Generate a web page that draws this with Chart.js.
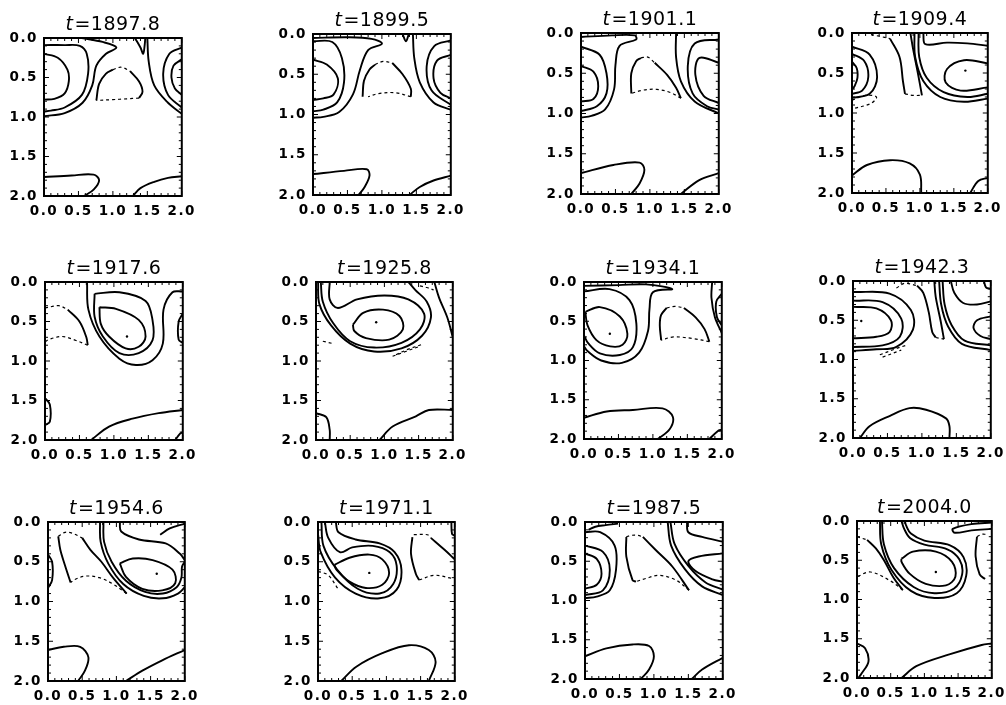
<!DOCTYPE html>
<html><head><meta charset="utf-8">
<script src="https://cdn.jsdelivr.net/npm/chart.js@4/dist/chart.umd.min.js"></script>
<style>
html,body{margin:0;padding:0;background:#fff;width:1006px;height:705px;overflow:hidden;position:relative}
.p{position:absolute}
</style></head><body>
<script>
// ---------- data ----------
const times = ['1897.8','1899.5','1901.1','1909.4','1917.6','1925.8','1934.1','1942.3','1954.6','1971.1','1987.5','2004.0'];
const tickValues = [0.0, 0.5, 1.0, 1.5, 2.0];

const solid_1897_8 = [
 [[0,0.2],[0.2,0.25],[0.34,0.4],[0.36,0.55],[0.3,0.7],[0.15,0.77],[0,0.78]],
 [[0,0.09],[0.3,0.09],[0.52,0.1],[0.62,0.2],[0.64,0.45],[0.55,0.72],[0.3,0.88],[0.1,0.92],[0,0.93]],
 [[0.55,0],[0.85,0.05],[1.05,0.12],[0.9,0.2],[0.76,0.35],[0.7,0.6],[0.56,0.82],[0.3,0.95],[0,0.99]],
 [[1.32,0],[1.4,0.12],[1.44,0.2],[1.46,0.1],[1.47,0]],
 [[1.5,0],[1.52,0.3],[1.6,0.6],[1.8,0.82],[2,0.96]],
 [[2,0.12],[1.82,0.2],[1.73,0.45],[1.8,0.72],[2,0.88]],
 [[2,0.27],[1.88,0.35],[1.85,0.5],[1.9,0.64],[2,0.72]],
 [[0.76,0.79],[0.8,0.58],[0.9,0.45],[1.0,0.4]],
 [[1.25,0.42],[1.38,0.55],[1.43,0.68],[1.38,0.76]],
 [[0,1.76],[0.4,1.74],[0.72,1.73],[0.8,1.8],[0.72,1.92],[0.58,2]],
 [[1.29,2],[1.4,1.9],[1.6,1.82],[1.8,1.77],[2,1.75]]
];
const dashed_1897_8 = [
 [[1.0,0.4],[1.12,0.37],[1.25,0.42]],
 [[1.38,0.76],[1.2,0.77],[1.0,0.78],[0.76,0.79]]
];
const dots_1897_8 = [];

const solid_1899_5 = [
 [[0,0.32],[0.2,0.38],[0.36,0.55],[0.3,0.75],[0.15,0.8],[0,0.82]],
 [[0,0.09],[0.28,0.1],[0.42,0.3],[0.45,0.6],[0.35,0.85],[0.15,0.94],[0,0.96]],
 [[0,0.05],[0.5,0.04],[0.85,0.06],[1.0,0.12],[0.8,0.2],[0.68,0.45],[0.58,0.75],[0.38,0.97],[0.15,1.03],[0,1.04]],
 [[1.3,0],[1.35,0.09],[1.39,0]],
 [[1.45,0],[1.47,0.3],[1.55,0.6],[1.75,0.85],[2,0.94]],
 [[2,0.08],[1.76,0.15],[1.65,0.4],[1.72,0.7],[2,0.88]],
 [[2,0.26],[1.8,0.33],[1.75,0.55],[1.85,0.73],[2,0.8]],
 [[0.72,0.78],[0.74,0.58],[0.82,0.44],[0.9,0.38]],
 [[1.15,0.36],[1.3,0.5],[1.42,0.68],[1.42,0.78]],
 [[0,1.74],[0.45,1.7],[0.78,1.68],[0.82,1.76],[0.75,1.9],[0.66,2]],
 [[1.4,2],[1.55,1.9],[1.75,1.82],[2,1.76]]
];
const dashed_1899_5 = [
 [[0.9,0.38],[1.02,0.34],[1.15,0.36]],
 [[1.42,0.78],[1.2,0.73],[0.95,0.74],[0.8,0.78]]
];
const dots_1899_5 = [];

const solid_1901_1 = [
 [[0,0.41],[0.18,0.48],[0.25,0.66],[0.18,0.82],[0,0.85]],
 [[0,0.17],[0.27,0.27],[0.37,0.5],[0.37,0.75],[0.23,0.91],[0,0.97]],
 [[0,0.05],[0.45,0.03],[0.78,0.03],[0.8,0.08],[0.56,0.16],[0.5,0.4],[0.48,0.7],[0.35,0.95],[0.15,1.03],[0,1.05]],
 [[1.38,0],[1.38,0.3],[1.45,0.6],[1.65,0.85],[2,1.0]],
 [[2,0.08],[1.65,0.13],[1.55,0.41],[1.62,0.75],[1.83,0.91],[2,0.95]],
 [[2,0.37],[1.72,0.31],[1.66,0.52],[1.78,0.78],[2,0.87]],
 [[0.73,0.75],[0.73,0.5],[0.8,0.35],[0.87,0.31]],
 [[1.07,0.37],[1.25,0.52],[1.38,0.68],[1.45,0.81]],
 [[0,1.74],[0.47,1.64],[0.85,1.61],[0.92,1.7],[0.85,1.87],[0.73,2]],
 [[1.45,2],[1.71,1.83],[2,1.74]]
];
const dashed_1901_1 = [
 [[0.87,0.31],[0.97,0.3],[1.07,0.37]],
 [[1.45,0.81],[1.3,0.74],[1.1,0.7],[0.9,0.71],[0.73,0.75]]
];
const dots_1901_1 = [];

const solid_1909_4 = [
 [[0,0.36],[0.07,0.44],[0.08,0.56],[0.04,0.66],[0,0.71]],
 [[0,0.26],[0.18,0.35],[0.24,0.55],[0.15,0.72],[0,0.76]],
 [[0,0.17],[0.26,0.27],[0.37,0.55],[0.26,0.76],[0,0.81]],
 [[0.56,0.07],[0.7,0.3],[0.75,0.6],[0.78,0.76]],
 [[1.03,0.78],[0.97,0.5],[0.9,0.2],[0.86,0]],
 [[0.92,0],[0.93,0.3],[1.05,0.6],[1.3,0.8],[1.65,0.86],[2,0.82]],
 [[0.98,0],[0.99,0.3],[1.1,0.56],[1.35,0.74],[1.7,0.8],[2,0.76]],
 [[1.05,0],[1.08,0.14],[1.4,0.12],[1.7,0.13],[2,0.16]],
 [[2,0.38],[1.65,0.34],[1.4,0.45],[1.38,0.62],[1.6,0.72],[2,0.68]],
 [[0,1.78],[0.22,1.65],[0.56,1.59],[0.85,1.63],[1.0,1.77],[1.02,2]],
 [[1.74,2],[1.86,1.85],[2,1.81]]
];
const dashed_1909_4 = [
 [[0.28,0.02],[0.4,0.04],[0.56,0.07]],
 [[0.78,0.76],[0.9,0.78],[1.03,0.78]],
 [[0,0.84],[0.2,0.78],[0.36,0.8],[0.28,0.88],[0,0.95]]
];
const dots_1909_4 = [[1.67,0.47]];

const solid_1917_6 = [
 [[0.79,0.32],[1.03,0.34],[1.36,0.48],[1.46,0.69],[1.36,0.82],[1.17,0.84],[0.93,0.69],[0.81,0.53],[0.79,0.32]],
 [[0.72,0.15],[1.08,0.13],[1.46,0.24],[1.56,0.48],[1.56,0.74],[1.36,0.9],[1.08,0.9],[0.84,0.69],[0.72,0.44],[0.72,0.15]],
 [[0.61,0],[0.63,0.35],[0.79,0.69],[1.08,0.97],[1.32,1.05],[1.56,0.99],[1.71,0.78],[1.72,0.35],[1.85,0.13],[2,0.12]],
 [[2,0.4],[1.94,0.5],[1.94,0.73],[2,0.77]],
 [[0.33,0.35],[0.5,0.5],[0.6,0.7],[0.62,0.8]],
 [[0,1.47],[0.07,1.55],[0.07,1.77],[0,1.81]],
 [[0.67,2],[0.93,1.83],[1.27,1.73],[1.65,1.66],[2,1.62]],
 [[1.89,2],[1.96,1.92],[2,1.9]]
];
const dashed_1917_6 = [
 [[0,0.33],[0.2,0.3],[0.33,0.35]],
 [[0.62,0.8],[0.45,0.74],[0.25,0.69],[0.05,0.73],[0,0.76]]
];
const dots_1917_6 = [[1.19,0.69]];

const solid_1925_8 = [
 [[0.54,0.54],[0.69,0.39],[0.98,0.35],[1.22,0.43],[1.27,0.6],[1.07,0.73],[0.73,0.71],[0.56,0.62],[0.54,0.54]],
 [[0.2,0],[0.2,0.22],[0.32,0.33],[0.6,0.22],[1.0,0.17],[1.35,0.22],[1.58,0.4],[1.52,0.6],[1.25,0.77],[0.85,0.83],[0.5,0.75],[0.25,0.52],[0.1,0.25],[0.07,0]],
 [[0.03,0],[0.05,0.28],[0.22,0.55],[0.5,0.78],[0.85,0.88],[1.25,0.84],[1.55,0.68],[1.68,0.45],[1.62,0.25],[1.45,0.1],[1.35,0]],
 [[1.73,0],[1.8,0.2],[1.92,0.45],[2,0.7]],
 [[0,1.66],[0.15,1.71],[0.2,1.87],[0.2,2]],
 [[0.93,2],[1.12,1.83],[1.46,1.7],[1.65,1.62],[2,1.62]]
];
const dashed_1925_8 = [
 [[1.52,0.05],[1.62,0.07],[1.72,0.1]],
 [[0.1,0.75],[0.25,0.78]],
 [[1.12,0.94],[1.31,0.88],[1.53,0.81]],
 [[1.17,0.92],[1.35,0.85],[1.55,0.79]]
];
const dots_1925_8 = [[0.88,0.51]];

const solid_1934_1 = [
 [[0.02,0.38],[0.23,0.32],[0.52,0.44],[0.63,0.66],[0.56,0.8],[0.38,0.82],[0.18,0.74],[0.05,0.55],[0.02,0.38]],
 [[0,0.12],[0.37,0.09],[0.66,0.23],[0.76,0.53],[0.71,0.83],[0.52,0.93],[0.23,0.91],[0.06,0.78],[0,0.68]],
 [[0,0.05],[0.5,0.04],[0.9,0.03],[1.28,0.09],[1.0,0.13],[0.95,0.35],[0.93,0.62],[0.8,0.9],[0.55,1.03],[0.25,1.0],[0.05,0.88],[0,0.82]],
 [[1.12,0.74],[1.1,0.55],[1.12,0.42],[1.2,0.33]],
 [[1.45,0.33],[1.62,0.45],[1.75,0.6],[1.82,0.76]],
 [[2,0.15],[1.92,0.25],[1.93,0.45],[2,0.55]],
 [[1.86,0],[1.85,0.2],[1.9,0.45],[2,0.65]],
 [[0,1.73],[0.33,1.65],[0.71,1.63],[1.14,1.61],[1.29,1.72],[1.24,1.88],[1.07,2]],
 [[1.82,2],[1.94,1.9],[2,1.88]]
];
const dashed_1934_1 = [
 [[1.2,0.33],[1.32,0.31],[1.45,0.33]],
 [[1.82,0.76],[1.58,0.72],[1.3,0.7],[1.12,0.74]]
];
const dots_1934_1 = [[0.375,0.66]];

const solid_1942_3 = [
 [[0,0.33],[0.34,0.35],[0.55,0.5],[0.53,0.65],[0.34,0.71],[0,0.73]],
 [[0,0.25],[0.43,0.27],[0.7,0.48],[0.68,0.71],[0.43,0.82],[0,0.84]],
 [[0,0.14],[0.53,0.16],[0.84,0.37],[0.87,0.62],[0.63,0.84],[0.34,0.87],[0,0.89]],
 [[0.93,0.06],[1.02,0.15],[1.1,0.4],[1.15,0.65],[1.2,0.72]],
 [[1.32,0.74],[1.27,0.5],[1.2,0.2],[1.18,0]],
 [[1.25,0],[1.28,0.3],[1.38,0.58],[1.58,0.8],[2,0.88]],
 [[1.3,0],[1.33,0.3],[1.43,0.56],[1.62,0.76],[2,0.82]],
 [[1.42,0],[1.47,0.15],[1.6,0.28],[1.8,0.3],[2,0.26]],
 [[2,0.45],[1.8,0.5],[1.75,0.6],[1.85,0.7],[2,0.74]],
 [[1.9,0],[1.93,0.08],[2,0.1]],
 [[0.1,2],[0.24,1.85],[0.53,1.72],[0.82,1.62],[1.06,1.64],[1.35,1.75],[1.4,1.85],[1.4,2]]
];
const dashed_1942_3 = [
 [[0.63,0.09],[0.75,0.03],[0.93,0.06]],
 [[1.2,0.72],[1.32,0.74]],
 [[0.39,0.94],[0.63,0.86],[0.77,0.82]],
 [[0.43,0.97],[0.7,0.88]]
];
const dots_1942_3 = [[0.12,0.51]];

const solid_1954_6 = [
 [[1.05,0.52],[1.24,0.46],[1.53,0.48],[1.82,0.6],[1.86,0.77],[1.67,0.86],[1.38,0.84],[1.14,0.69],[1.05,0.52]],
 [[1.05,0],[1.07,0.12],[1.33,0.22],[1.72,0.27],[1.93,0.4],[2,0.48]],
 [[0.81,0],[0.82,0.25],[0.93,0.5],[1.14,0.74],[1.42,0.88],[1.68,0.9],[1.88,0.82],[1.95,0.7],[1.96,0.56],[2,0.5]],
 [[0.76,0],[0.77,0.25],[0.88,0.52],[1.1,0.78],[1.4,0.93],[1.68,0.96],[1.9,0.9],[2,0.82]],
 [[1.64,0.16],[1.78,0.08],[2,0.02]],
 [[0.5,0.2],[0.62,0.35],[0.78,0.5],[0.95,0.7],[1.15,0.9]],
 [[0.33,0.76],[0.25,0.55],[0.18,0.35],[0.15,0.18]],
 [[0,0.41],[0.06,0.5],[0.06,0.73],[0,0.83]],
 [[0,1.61],[0.23,1.57],[0.47,1.57],[0.59,1.7],[0.54,1.87],[0.44,2]],
 [[1.14,2],[1.38,1.87],[1.67,1.74],[2,1.61]]
];
const dashed_1954_6 = [
 [[0.15,0.18],[0.25,0.13],[0.35,0.14],[0.5,0.2]],
 [[1.15,0.9],[0.95,0.78],[0.75,0.7],[0.55,0.68],[0.4,0.72],[0.33,0.76]]
];
const dots_1954_6 = [[1.59,0.65]];

const solid_1971_1 = [
 [[0.24,0.54],[0.46,0.45],[0.75,0.41],[0.94,0.47],[1.04,0.64],[0.94,0.79],[0.7,0.83],[0.46,0.75],[0.27,0.6],[0.24,0.54]],
 [[0.05,0],[0.08,0.3],[0.28,0.6],[0.58,0.84],[0.9,0.9],[1.1,0.78],[1.15,0.55],[1.05,0.38],[0.8,0.3],[0.5,0.32],[0.32,0.38],[0.15,0.2],[0.1,0]],
 [[0,0.15],[0.04,0.38],[0.25,0.7],[0.55,0.9],[0.9,0.96],[1.15,0.85],[1.22,0.6],[1.12,0.38],[0.9,0.27],[0.55,0.22],[0.3,0.13],[0.26,0]],
 [[1.38,0.19],[1.36,0.4],[1.43,0.65],[1.48,0.73]],
 [[1.65,0.2],[1.85,0.35],[2,0.47]],
 [[1.95,0],[1.96,0.15],[2,0.17]],
 [[0.34,2],[0.56,1.82],[0.94,1.65],[1.33,1.55],[1.62,1.61],[1.72,1.76],[1.62,2]]
];
const dashed_1971_1 = [
 [[0,0.62],[0.15,0.67],[0.3,0.85]],
 [[1.48,0.73],[1.7,0.67],[1.96,0.71]],
 [[1.4,0.16],[1.6,0.16],[1.65,0.2]]
];
const dots_1971_1 = [[0.75,0.64]];

const solid_1987_5 = [
 [[0,0.4],[0.17,0.47],[0.24,0.66],[0.17,0.8],[0,0.85]],
 [[0,0.3],[0.26,0.38],[0.36,0.61],[0.26,0.87],[0,0.93]],
 [[0,0.13],[0.22,0.13],[0.43,0.3],[0.45,0.61],[0.36,0.87],[0.17,0.95],[0,0.97]],
 [[0.05,0.1],[0.15,0.06],[0.3,0.04],[0.48,0.02]],
 [[0.6,0.19],[0.6,0.44],[0.69,0.74],[0.74,0.76]],
 [[0.84,0.19],[1.03,0.36],[1.27,0.57],[1.51,0.87]],
 [[1.2,0],[1.25,0.3],[1.45,0.6],[1.7,0.82],[2,0.93]],
 [[1.24,0],[1.3,0.28],[1.5,0.56],[1.75,0.77],[2,0.86]],
 [[1.48,0],[1.5,0.13],[1.7,0.19],[2,0.25]],
 [[2,0.4],[1.65,0.44],[1.5,0.5],[1.6,0.62],[1.85,0.73],[2,0.76]],
 [[0,1.71],[0.31,1.61],[0.69,1.56],[0.93,1.58],[1.0,1.71],[0.93,1.88],[0.81,2]],
 [[1.55,2],[1.7,1.88],[2,1.73]]
];
const dashed_1987_5 = [
 [[0.6,0.19],[0.67,0.17],[0.77,0.17],[0.84,0.19]],
 [[1.51,0.87],[1.32,0.74],[1.08,0.68],[0.88,0.72],[0.74,0.76]]
];
const dots_1987_5 = [];

const solid_2004_0 = [
 [[0.66,0.48],[0.83,0.39],[1.17,0.39],[1.41,0.52],[1.46,0.71],[1.32,0.82],[1.02,0.8],[0.78,0.67],[0.66,0.52],[0.66,0.48]],
 [[0.37,0],[0.4,0.3],[0.55,0.6],[0.84,0.84],[1.15,0.92],[1.44,0.86],[1.56,0.68],[1.52,0.49],[1.34,0.36],[1.0,0.3],[0.79,0.22],[0.7,0.1],[0.66,0]],
 [[0.34,0],[0.36,0.3],[0.51,0.62],[0.8,0.89],[1.15,0.98],[1.48,0.92],[1.62,0.7],[1.58,0.46],[1.38,0.31],[1.0,0.25],[0.8,0.16],[0.73,0.06],[0.71,0]],
 [[2,0.02],[1.7,0.04],[1.42,0.1],[1.45,0.15],[1.7,0.12],[2,0.1]],
 [[1.78,0.2],[1.76,0.45],[1.82,0.68],[1.9,0.74]],
 [[0.15,0.24],[0.28,0.35],[0.4,0.5],[0.54,0.72],[0.68,0.88]],
 [[0,1.56],[0.12,1.62],[0.17,1.79],[0.07,1.94],[0.02,2]],
 [[0.66,2],[0.88,1.85],[1.37,1.7],[1.85,1.58],[2,1.56]]
];
const dashed_2004_0 = [
 [[1.78,0.2],[1.85,0.17],[1.92,0.17]],
 [[0,0.2],[0.15,0.24]],
 [[0.68,0.88],[0.49,0.76],[0.2,0.65],[0,0.71]]
];
const dots_2004_0 = [[1.17,0.65]];

const solidSets = [solid_1897_8,solid_1899_5,solid_1901_1,solid_1909_4,solid_1917_6,solid_1925_8,solid_1934_1,solid_1942_3,solid_1954_6,solid_1971_1,solid_1987_5,solid_2004_0];
const dashedSets = [dashed_1897_8,dashed_1899_5,dashed_1901_1,dashed_1909_4,dashed_1917_6,dashed_1925_8,dashed_1934_1,dashed_1942_3,dashed_1954_6,dashed_1971_1,dashed_1987_5,dashed_2004_0];
const dotSets = [dots_1897_8,dots_1899_5,dots_1901_1,dots_1909_4,dots_1917_6,dots_1925_8,dots_1934_1,dots_1942_3,dots_1954_6,dots_1971_1,dots_1987_5,dots_2004_0];

// ---------- layout (plot boxes: left, top, width, height) ----------
const boxes = [
 [44,38,139,158],[313,34,139,161],[581,33,139,161],[852,33,137,160],
 [45,282,139,158],[316,282,138,158],[584,282,139,157],[853,281,139,157],
 [48,522,138,159],[318,522,138,159],[585,522,139,157],[857,521,136,157]
];
const PAD_L = 44, PAD_T = 34, PAD_R = 20, PAD_B = 26;
const FONT = '"DejaVu Sans", "Liberation Sans", sans-serif';

const spacingPlugin = {
  id: 'spacing',
  beforeUpdate(chart) { chart.ctx.letterSpacing = '1.5px'; },
  beforeLayout(chart) { chart.ctx.letterSpacing = '1.5px'; },
  beforeDraw(chart) { chart.ctx.letterSpacing = '1.5px'; }
};

const framePlugin = {
  id: 'frame',
  afterDatasetsDraw(chart) {
    const {ctx, chartArea: a, scales} = chart;
    ctx.save();
    ctx.strokeStyle = '#000';
    ctx.lineWidth = 1;
    for (let k = 0; k <= 20; k++) {
      const v = k / 10;
      const len = (k % 5 === 0) ? 5 : 3;
      const px = scales.x.getPixelForValue(v);
      const py = scales.y.getPixelForValue(v);
      ctx.beginPath();
      ctx.moveTo(px, a.bottom); ctx.lineTo(px, a.bottom - len);
      ctx.moveTo(px, a.top); ctx.lineTo(px, a.top + len);
      ctx.moveTo(a.left, py); ctx.lineTo(a.left + len, py);
      ctx.moveTo(a.right, py); ctx.lineTo(a.right - len, py);
      ctx.stroke();
    }
    ctx.lineWidth = 2;
    ctx.strokeRect(a.left, a.top, a.right - a.left, a.bottom - a.top);
    ctx.restore();
  }
};

function titlePlugin(label) {
  return {
    id: 'rtitle',
    afterDraw(chart) {
      const {ctx, chartArea: a} = chart;
      ctx.save();
      ctx.letterSpacing = '0.5px';
      ctx.fillStyle = '#000';
      ctx.textBaseline = 'middle';
      ctx.textAlign = 'left';
      const f1 = 'italic 19px ' + FONT, f2 = '19px ' + FONT;
      ctx.font = f1; const w1 = ctx.measureText('t').width;
      const rest = '=' + label;
      ctx.font = f2; const w2 = ctx.measureText(rest).width;
      const x0 = (a.left + a.right) / 2 - (w1 + w2 + 1) / 2;
      const y = a.top - 13;
      ctx.font = f1; ctx.fillText('t', x0, y);
      ctx.font = f2; ctx.fillText(rest, x0 + w1 + 1, y);
      ctx.restore();
    }
  };
}

const toXY = pts => pts.map(([x, y]) => ({x, y}));

function axis(isY) {
  return {
    type: 'linear', min: 0, max: 2, reverse: isY,
    position: isY ? 'left' : 'bottom',
    grid: {display: false, drawTicks: false},
    border: {display: false},
    ticks: {
      color: '#000', padding: isY ? 6 : 7, maxRotation: 0, autoSkip: false,
      font: {family: FONT, size: 13.5, weight: 'bold'},
      callback: v => Number(v).toFixed(1)
    },
    afterBuildTicks: s => { s.ticks = tickValues.map(v => ({value: v})); },
    afterFit: s => { if (isY) s.width = PAD_L; else s.height = PAD_B; }
  };
}

boxes.forEach((b, i) => {
  const [L, T, W, H] = b;
  const div = document.createElement('div');
  div.className = 'p';
  const cw = W + PAD_L + PAD_R, ch = H + PAD_T + PAD_B;
  div.style.left = (L - PAD_L) + 'px';
  div.style.top = (T - PAD_T) + 'px';
  div.style.width = cw + 'px';
  div.style.height = ch + 'px';
  const cv = document.createElement('canvas');
  cv.width = cw; cv.height = ch;
  cv.style.width = cw + 'px'; cv.style.height = ch + 'px';
  div.appendChild(cv);
  document.body.appendChild(div);

  const datasets = [];
  solidSets[i].forEach(p => datasets.push({
    data: toXY(p), showLine: true, borderColor: '#000', borderWidth: 1.9,
    pointRadius: 0, tension: 0.35, fill: false
  }));
  dashedSets[i].forEach(p => datasets.push({
    data: toXY(p), showLine: true, borderColor: '#000', borderWidth: 1.2,
    borderDash: [3, 3], pointRadius: 0, tension: 0.35, fill: false
  }));
  if (dotSets[i].length) datasets.push({
    data: toXY(dotSets[i]), showLine: false, pointRadius: 1.2,
    pointBackgroundColor: '#000', pointBorderWidth: 0
  });

  new Chart(cv, {
    type: 'scatter',
    data: {datasets},
    options: {
      responsive: false, animation: false, devicePixelRatio: 1, events: [],
      layout: {padding: {top: PAD_T, right: PAD_R, left: 0, bottom: 0}},
      plugins: {legend: {display: false}, tooltip: {enabled: false}, title: {display: false}},
      scales: {x: axis(false), y: axis(true)}
    },
    plugins: [spacingPlugin, framePlugin, titlePlugin(times[i])]
  });
});
</script>
</body></html>
